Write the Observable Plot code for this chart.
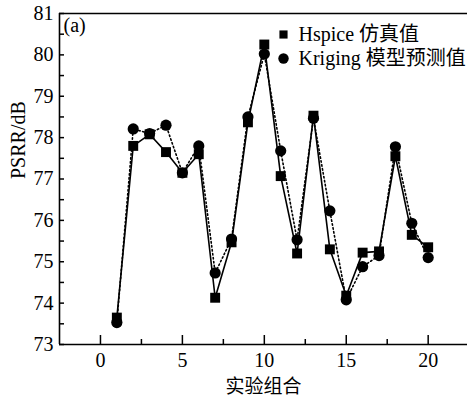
<!DOCTYPE html>
<html>
<head>
<meta charset="utf-8">
<script src="https://cdn.jsdelivr.net/npm/d3@7"></script>
<script src="https://cdn.jsdelivr.net/npm/@observablehq/plot@0.6"></script>
<style>
  html, body { margin: 0; padding: 0; background: white; }
</style>
</head>
<body>
<div id="chart"></div>
<script>
const runs = [1,2,3,4,5,6,7,8,9,10,11,12,13,14,15,16,17,18,19,20];
const hspice  = [73.65,77.8,78.08,77.65,77.15,77.6,74.13,75.47,78.37,80.25,77.07,75.2,78.53,75.3,74.18,75.22,75.25,77.55,75.65,75.35];
const kriging = [73.53,78.21,78.1,78.3,77.15,77.8,74.73,75.55,78.5,80.02,77.68,75.53,78.47,76.23,74.08,74.88,75.15,77.78,75.93,75.1];
const xMajorTicks = [0,5,10,15,20];
const xMinorTicks = [2.5,7.5,12.5,17.5];
const yTicks = [73,74,75,76,77,78,79,80,81];
const yMinorTicks = [73.5,74.5,75.5,76.5,77.5,78.5,79.5,80.5];
const seriesNames = ["Hspice 仿真值", "Kriging 模型预测值"];
const panelLabel = "(a)";
const xTitle = "实验组合";
const yTitle = "PSRR/dB";

const H = runs.map((r, i) => ({run: r, v: hspice[i]}));
const K = runs.map((r, i) => ({run: r, v: kriging[i]}));

const font = "'Liberation Serif', 'Times New Roman', 'Noto Sans CJK SC', serif";

const chart = Plot.plot({
  width: 467,
  height: 401,
  marginTop: 13,
  marginBottom: 57,
  marginLeft: 59,
  marginRight: 0,
  x: {domain: [-2.5, 22.4]},
  y: {domain: [73, 81]},
  style: {fontFamily: font, fontSize: "20px", color: "black", background: "white", overflow: "visible"},
  marks: [
    // frame lines
    Plot.ruleX([-2.5], {stroke: "black", strokeWidth: 1.6}),
    Plot.ruleY([73], {stroke: "black", strokeWidth: 1.6}),
    Plot.ruleY([81], {stroke: "black", strokeWidth: 1.6}),
    // inward ticks
    Plot.axisX({ticks: xMajorTicks, tickSize: -9, tickFormat: () => "", label: null, strokeWidth: 1.5}),
    Plot.axisX({ticks: xMinorTicks, tickSize: -5, tickFormat: () => "", label: null, strokeWidth: 1.5}),
    Plot.axisY({ticks: yTicks.concat(yMinorTicks), tickSize: -5, tickFormat: () => "", label: null, strokeWidth: 1.5}),
    // tick labels
    Plot.axisX({ticks: xMajorTicks, tickSize: 0, tickPadding: 8, label: null, fontSize: 20}),
    Plot.axisY({ticks: yTicks, tickSize: 0, tickPadding: 6, label: null, fontSize: 20}),
    // axis titles
    Plot.text([yTitle], {text: d => d, frameAnchor: "left", dx: -41, rotate: -90, lineAnchor: "middle", fontSize: 20}),
    Plot.text([xTitle], {text: d => d, frameAnchor: "bottom", dy: 42, lineAnchor: "middle", fontSize: 19, fontFamily: "'Noto Sans CJK SC', sans-serif"}),
    Plot.text([panelLabel], {text: d => d, frameAnchor: "top-left", dx: 4, dy: 12, lineAnchor: "middle", textAnchor: "start", fontSize: 20}),
    // series
    Plot.line(K, {x: "run", y: "v", stroke: "black", strokeWidth: 1.6, strokeDasharray: "1.5,2.5"}),
    Plot.line(H, {x: "run", y: "v", stroke: "black", strokeWidth: 1.6}),
    Plot.dot(K, {x: "run", y: "v", symbol: "circle", r: 5.6, fill: "black", stroke: "none"}),
    Plot.dot(H, {x: "run", y: "v", symbol: "square", r: 5.6, fill: "black", stroke: "none"}),
    // legend
    Plot.dot([seriesNames[0]], {frameAnchor: "top-left", dx: 224, dy: 21, symbol: "square", r: 4.6, fill: "black"}),
    Plot.dot([seriesNames[1]], {frameAnchor: "top-left", dx: 224, dy: 45, symbol: "circle", r: 5.2, fill: "black"}),
    Plot.text([seriesNames[0]], {text: d => d, frameAnchor: "top-left", dx: 239, dy: 21, lineAnchor: "middle", textAnchor: "start", fontSize: 20}),
    Plot.text([seriesNames[1]], {text: d => d, frameAnchor: "top-left", dx: 239, dy: 45, lineAnchor: "middle", textAnchor: "start", fontSize: 20})
  ]
});
document.getElementById("chart").appendChild(chart);
</script>
</body>
</html>
